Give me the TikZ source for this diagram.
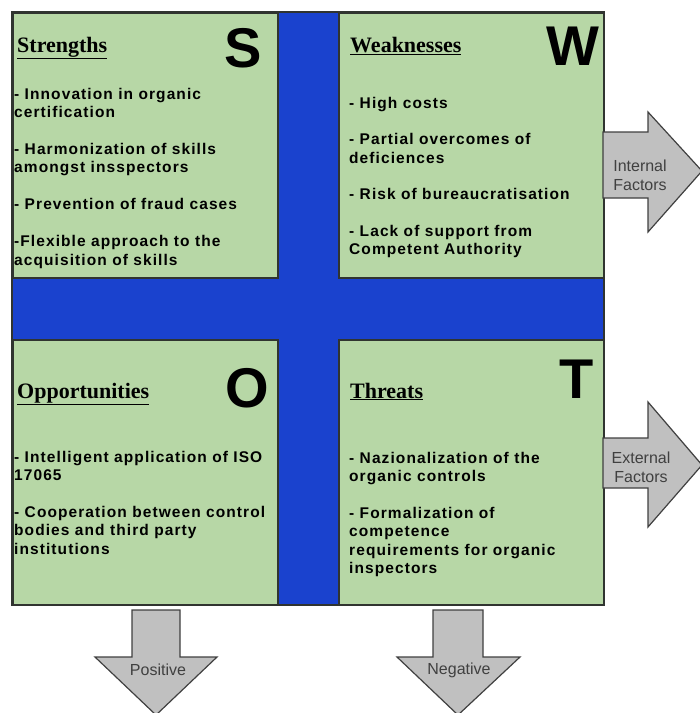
\documentclass[tikz,border=0pt]{standalone}
\usepackage{fontspec}
\setmainfont{Liberation Sans}
\newfontfamily\headfont{Liberation Serif}
\usetikzlibrary{positioning}
\definecolor{crossblue}{RGB}{26,66,206}
\definecolor{boxgreen}{RGB}{183,215,166}
\definecolor{boxline}{RGB}{48,52,48}
\definecolor{arrowgray}{RGB}{192,192,192}
\definecolor{arrowline}{RGB}{64,64,64}

\begin{document}
\begin{tikzpicture}[x=1pt,y=-1pt,
	quad/.style={draw=boxline, line width=1.6pt, fill=boxgreen, anchor=north west, minimum width=265pt, minimum height=265pt, inner sep=0pt},
	letter/.style={anchor=base east, inner sep=0pt, font=\fontsize{56}{56}\selectfont\bfseries},
	heading/.style={anchor=base west, inner sep=0pt, font=\fontsize{22}{24}\selectfont\headfont\bfseries},
	items/.style={anchor=north west, inner sep=0pt, align=left, font=\fontsize{15.5}{18.5}\selectfont\bfseries\addfontfeature{LetterSpace=7}},
	block/.style={draw=arrowline, line width=1.2pt, fill=arrowgray, line join=miter},
	tag/.style={inner sep=0pt, align=center, text=arrowline, font=\fontsize{16}{19}\selectfont}]
	\clip (0,0) rectangle (700,713);
	\useasboundingbox (0,0) rectangle (700,713);
	
	% blue cross behind the four boxes
	\fill[crossblue, draw=boxline, line width=1.6pt] (12,12) rectangle (604,605);
	
	\node (S) [quad] at (12,12) {};
	\node (W) [quad] at (338,12) {};
	\node (O) [quad] at (12,339) {};
	\node (T) [quad] at (338,339) {};
	
	\node (Sl) [letter] at (262,67) {S};
	\node (Wl) [letter] at (600,65) {W};
	\node (Ol) [letter] at (269,407) {O};
	\node (Tl) [letter] at (594,398) {T};
	
	\node (Sh) [heading] at (17,52) {\underline{Strengths}};
	\node (Wh) [heading] at (350,52) {\underline{Weaknesses}};
	\node (Oh) [heading] at (17,398) {\underline{Opportunities}};
	\node (Th) [heading] at (350,398) {\underline{Threats}};
	
	\node (Si) [items] at (14,88) {- Innovation in organic\\certification\\[18pt]- Harmonization of skills\\amongst insspectors\\[18pt]- Prevention of fraud cases\\[19pt]-Flexible approach to the\\acquisition of skills};
	\node (Wi) [items] at (349,97) {- High costs\\[18pt]- Partial overcomes of\\deficiences\\[18pt]- Risk of bureaucratisation\\[18pt]- Lack of support from\\Competent Authority};
	\node (Oi) [items] at (14,451) {- Intelligent application of ISO\\17065\\[18pt]- Cooperation between control\\bodies and third party\\institutions};
	\node (Ti) [items] at (349,452) {- Nazionalization of the\\organic controls\\[18pt]- Formalization of\\competence\\requirements for organic\\inspectors};
	
	% factor arrows
	\draw[block] (603,132) -- (648,132) -- (648,112) -- (702,171) -- (648,232) -- (648,198) -- (603,198) -- cycle;
	\draw[block] (603,438) -- (648,438) -- (648,402) -- (702,465) -- (648,527) -- (648,488) -- (603,488) -- cycle;
	\draw[block] (132,610) -- (180,610) -- (180,657) -- (217,657) -- (156,715) -- (95,657) -- (132,657) -- cycle;
	\draw[block] (433,610) -- (483,610) -- (483,657) -- (520,657) -- (458,715) -- (397,657) -- (433,657) -- cycle;
	
	\node (int) [tag] at (640,175) {Internal\\Factors};
	\node (ext) [tag] at (641,467) {External\\Factors};
	\node (pos) [tag] at (158,670) {Positive};
	\node (neg) [tag] at (459,670) {Negative};
\end{tikzpicture}
\end{document}
